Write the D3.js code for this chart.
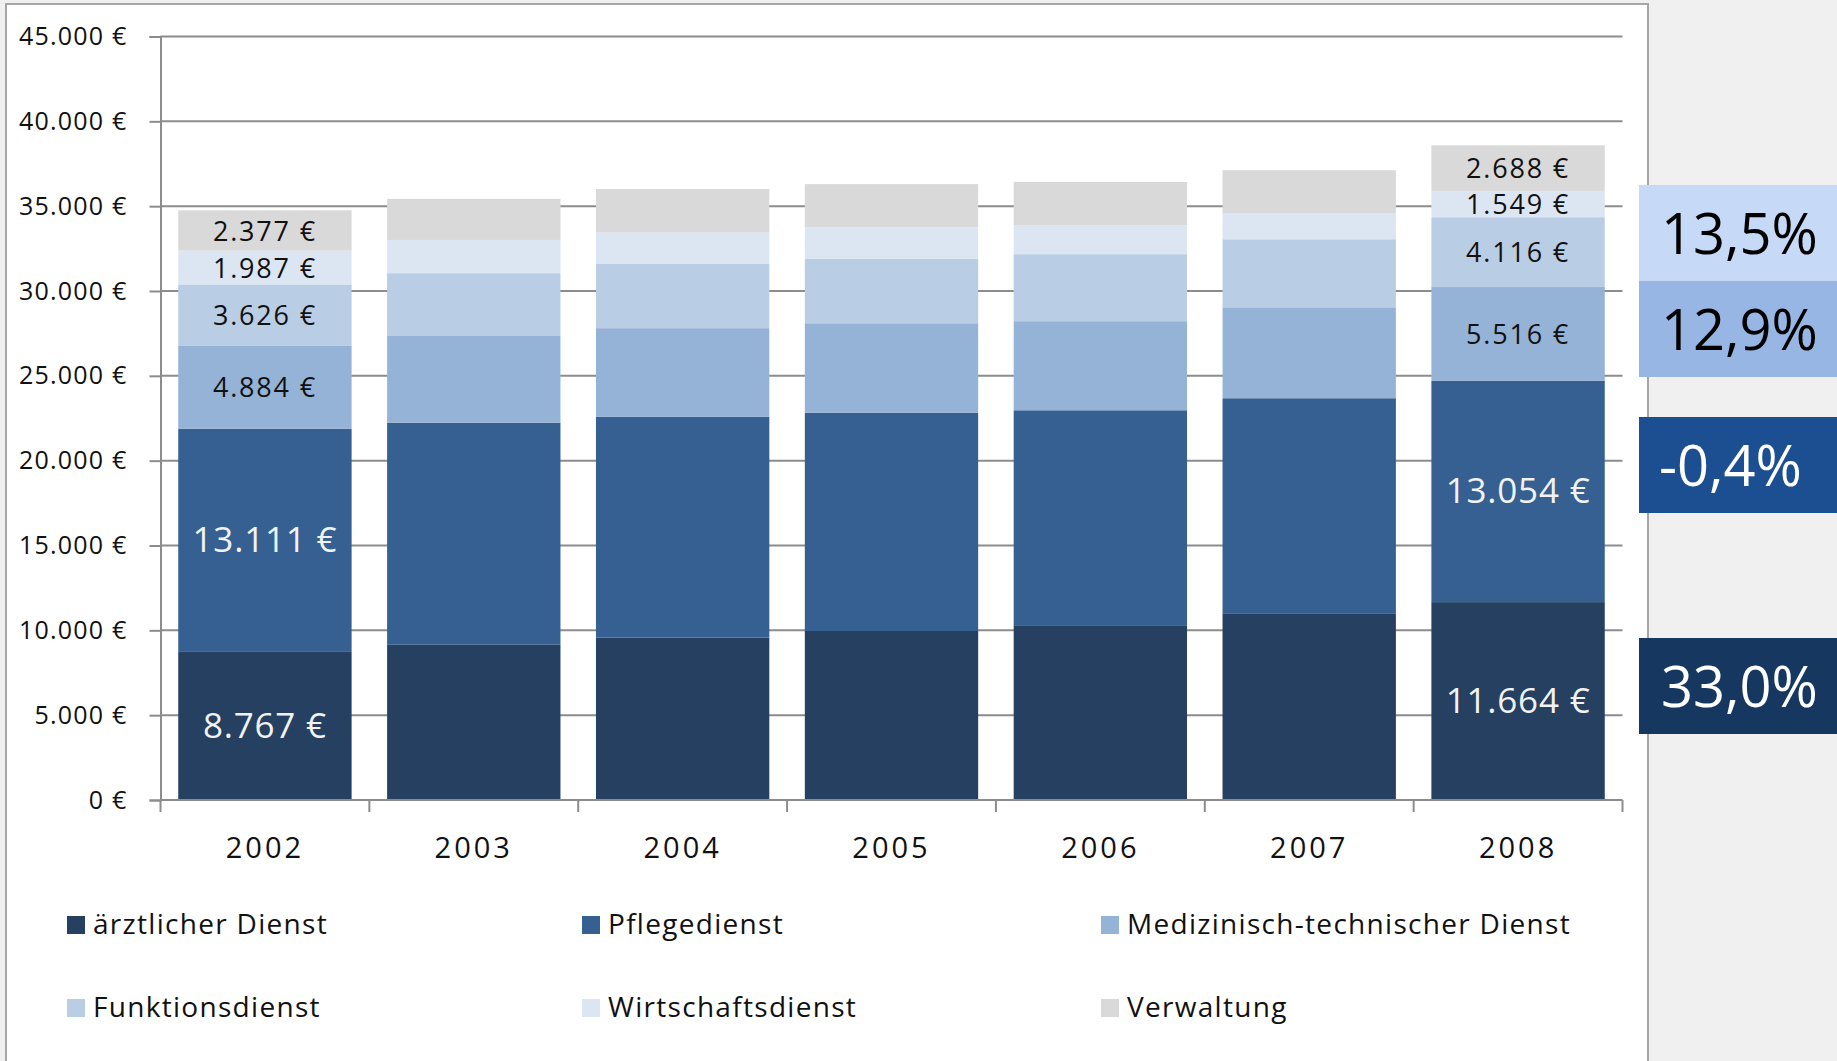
<!DOCTYPE html>
<html>
<head>
<meta charset="utf-8">
<script src="https://cdn.jsdelivr.net/npm/d3@7"></script>
<style>
    body { margin: 0; background: #f0f0f0; }
    svg { display: block; }
    text { font-family: "Open Sans", "Noto Sans", sans-serif; }
</style>
</head>
<body>
<div id="chart"></div>
<script>
// years on the x axis
var years = ["2002", "2003", "2004", "2005", "2006", "2007", "2008"];

// series, bottom to top
var seriesNames = ["ärztlicher Dienst", "Pflegedienst", "Medizinisch-technischer Dienst",
    "Funktionsdienst", "Wirtschaftsdienst", "Verwaltung"];

// cost per full-time position (EUR)
var aerztlich = [8767, 9150, 9570, 9960, 10260, 10970, 11664];
var pflege = [13111, 13090, 13010, 12870, 12710, 12710, 13054];
var medTech = [4884, 5110, 5230, 5270, 5250, 5360, 5516];
var funktion = [3626, 3700, 3810, 3790, 3950, 4010, 4116];
var wirtschaft = [1987, 1960, 1830, 1850, 1710, 1510, 1549];
var verwaltung = [2377, 2420, 2560, 2560, 2550, 2560, 2688];

// years whose segments carry a value label
var labelledYears = ["2002", "2008"];

// y axis ticks
var yTicks = [0, 5000, 10000, 15000, 20000, 25000, 30000, 35000, 40000, 45000];

// change 2002 -> 2008 boxes on the right
var changeLabels = ["13,5%", "12,9%", "-0,4%", "33,0%"];

var colors = {
    "ärztlicher Dienst": "#254061",
    "Pflegedienst": "#366092",
    "Medizinisch-technischer Dienst": "#95b3d7",
    "Funktionsdienst": "#b9cde5",
    "Wirtschaftsdienst": "#dce6f2",
    "Verwaltung": "#d9d9d9"
};
var boxColors = ["#c6d9f7", "#98b6e3", "#1c4f91", "#16375f"];
var boxTextColors = ["#000", "#000", "#fff", "#fff"];
var boxTops = [185, 281, 417, 638];

var width = 1837;
var height = 1061;

var rows = years.map(function (y, i) {
    return {
        year: y,
        "ärztlicher Dienst": aerztlich[i],
        "Pflegedienst": pflege[i],
        "Medizinisch-technischer Dienst": medTech[i],
        "Funktionsdienst": funktion[i],
        "Wirtschaftsdienst": wirtschaft[i],
        "Verwaltung": verwaltung[i]
    };
});

var stacked = d3.stack().keys(seriesNames)(rows);

var xScale = d3.scaleBand()
    .domain(years)
    .range([160.5, 1622.5])
    .paddingInner(0.17)
    .paddingOuter(0.085);

var yScale = d3.scaleLinear()
    .domain([0, 45000])
    .range([800, 36.5]);

var svg = d3.select("#chart")
    .append("svg")
    .attr("width", width)
    .attr("height", height);

// chart area
svg.append("rect")
    .attr("x", 6)
    .attr("y", 4)
    .attr("width", 1642)
    .attr("height", 1070)
    .attr("fill", "#fff")
    .attr("stroke", "#a6a6a6")
    .attr("stroke-width", 2);

// gridlines
svg.append("g")
    .selectAll("line")
    .data(yTicks.slice(1))
    .enter()
    .append("line")
    .attr("x1", 160.5)
    .attr("x2", 1622.5)
    .attr("y1", function (d) { return yScale(d); })
    .attr("y2", function (d) { return yScale(d); })
    .attr("stroke", "#8c8c8c")
    .attr("stroke-width", 2);

// y axis
var yAxis = d3.axisLeft(yScale)
    .tickValues(yTicks)
    .tickSize(11)
    .tickPadding(22)
    .tickFormat(function (d) { return d3.format(",")(d).replace(/,/g, ".") + " €"; });

var gy = svg.append("g")
    .attr("transform", "translate(160.5,0)")
    .call(yAxis);
gy.selectAll("path, line").attr("stroke", "#8c8c8c").attr("stroke-width", 2);
gy.selectAll("text")
    .attr("font-family", "'Open Sans', sans-serif")
    .attr("font-size", 25)
    .attr("letter-spacing", 1.2)
    .attr("fill", "#111");

// bars
var layer = svg.append("g")
    .selectAll("g")
    .data(stacked)
    .enter()
    .append("g")
    .attr("fill", function (d) { return colors[d.key]; });

layer.selectAll("rect")
    .data(function (d) { return d; })
    .enter()
    .append("rect")
    .attr("x", function (d) { return xScale(d.data.year); })
    .attr("width", xScale.bandwidth())
    .attr("y", function (d) { return yScale(d[1]); })
    .attr("height", function (d) { return yScale(d[0]) - yScale(d[1]); });

// x axis (category separators)
var xAxisY = yScale(0);
var xa = svg.append("g");
xa.append("line")
    .attr("x1", 160.5).attr("x2", 1622.5)
    .attr("y1", xAxisY).attr("y2", xAxisY)
    .attr("stroke", "#8c8c8c").attr("stroke-width", 2);
var step = xScale.step();
xa.selectAll(".sep")
    .data(d3.range(years.length + 1))
    .enter()
    .append("line")
    .attr("x1", function (i) { return 160.5 + i * step; })
    .attr("x2", function (i) { return 160.5 + i * step; })
    .attr("y1", xAxisY)
    .attr("y2", xAxisY + 12)
    .attr("stroke", "#8c8c8c").attr("stroke-width", 2);
xa.selectAll(".yr")
    .data(years)
    .enter()
    .append("text")
    .attr("x", function (d) { return xScale(d) + xScale.bandwidth() / 2; })
    .attr("y", 858)
    .attr("text-anchor", "middle")
    .attr("font-size", 29)
    .attr("letter-spacing", 3)
    .attr("fill", "#111")
    .text(function (d) { return d; });

// value labels for first and last year
stacked.forEach(function (s, si) {
    var dark = si < 2;
    svg.append("g")
        .selectAll("text")
        .data(s.filter(function (d) { return labelledYears.indexOf(d.data.year) >= 0; }))
        .enter()
        .append("text")
        .attr("x", function (d) { return xScale(d.data.year) + xScale.bandwidth() / 2; })
        .attr("y", function (d) { return (yScale(d[0]) + yScale(d[1])) / 2; })
        .attr("dy", dark ? 12 : 10)
        .attr("text-anchor", "middle")
        .attr("font-size", dark ? 35 : 27)
        .attr("letter-spacing", dark ? 0.8 : 1.8)
        .attr("fill", dark ? "#f2f2f2" : "#111")
        .text(function (d) {
            var v = d[1] - d[0];
            return d3.format(",")(v).replace(/,/g, ".") + (dark ? " €" : "  €");
        });
});

// right hand border strip
svg.append("rect")
    .attr("x", 1649)
    .attr("y", 0)
    .attr("width", width - 1649)
    .attr("height", height)
    .attr("fill", "#f0f0f0");

// change boxes
var boxes = svg.append("g")
    .selectAll("g")
    .data(changeLabels)
    .enter()
    .append("g");

boxes.append("rect")
    .attr("x", 1639)
    .attr("y", function (d, i) { return boxTops[i]; })
    .attr("width", width - 1639)
    .attr("height", 96)
    .attr("fill", function (d, i) { return boxColors[i]; });

boxes.append("text")
    .attr("x", function (d, i) { return i === 2 ? 1659 : 1661; })
    .attr("y", function (d, i) { return boxTops[i] + 69; })
    .attr("font-size", 56)
    .attr("fill", function (d, i) { return boxTextColors[i]; })
    .text(function (d) { return d; });

// legend
var legendCols = [67, 582, 1101];
var legendRows = [916, 999];
var legend = svg.append("g")
    .selectAll("g")
    .data(seriesNames)
    .enter()
    .append("g")
    .attr("transform", function (d, i) {
        return "translate(" + legendCols[i % 3] + "," + legendRows[Math.floor(i / 3)] + ")";
    });

legend.append("rect")
    .attr("width", 18)
    .attr("height", 18)
    .attr("fill", function (d) { return colors[d]; });

legend.append("text")
    .attr("x", 26)
    .attr("y", 18)
    .attr("font-size", 28)
    .attr("letter-spacing", 1.3)
    .attr("fill", "#111")
    .text(function (d) { return d; });
</script>
</body>
</html>
